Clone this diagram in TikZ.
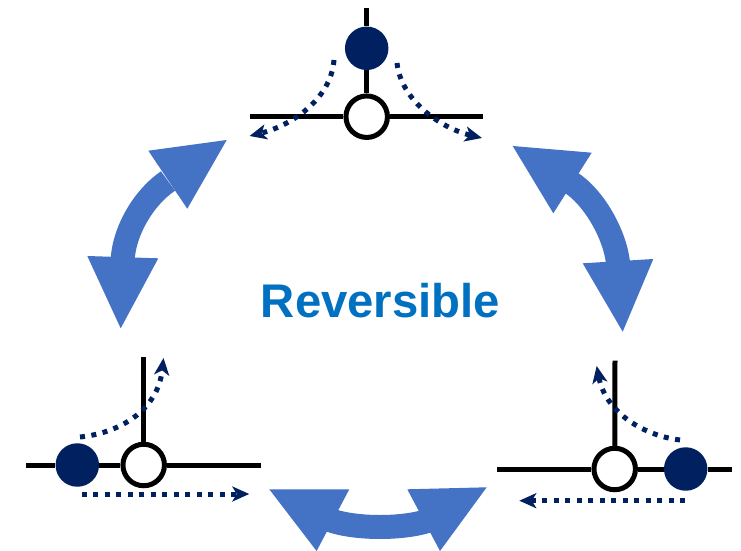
\documentclass[tikz,border=0pt]{standalone}
\usepackage{fontspec}
\setmainfont{Liberation Sans}
\usetikzlibrary{arrows.meta}
\definecolor{navy}{HTML}{002060}
\definecolor{cyclearrow}{HTML}{4472C4}
\definecolor{labelblue}{HTML}{0070C0}

\begin{document}
\begin{tikzpicture}[x=0.02cm, y=-0.02cm,
        rod/.style={line width=0.1cm, black},
        vacancy/.style={circle, draw=black, line width=0.1cm, fill=white, minimum size=0.83cm, inner sep=0pt},
        atom/.style={circle, fill=navy, minimum size=0.87cm, inner sep=0pt},
        hop/.style={navy, line width=0.1cm, dash pattern=on 0.1cm off 0.13cm,
            -{Stealth[length=0.34cm, width=0.3cm, inset=0.09cm]}},
        shaft/.style={cyclearrow, line width=0.48cm}]

        \useasboundingbox (0,0) rectangle (741,551);

        % top junction
        \coordinate (T1) at (250,116.7);
        \coordinate (T2) at (483.3,116.7);
        \coordinate (T3) at (366.7,8);
        \node[vacancy] (TV) at (366.7,116.7) {};
        \node[atom] (TA) at (366.7,48.3) {};
        \draw[rod] (T1) -- (TV) -- (T2);
        \draw[rod] (T3) -- (TA) -- (TV);
        \coordinate (Ta) at (334,60);
        \coordinate (Tb) at (249.5,136);
        \coordinate (Tc) at (397,63);
        \coordinate (Td) at (482,138);
        \draw[hop] (Ta) .. controls (331,100) and (290,126) .. (Tb);
        \draw[hop] (Tc) .. controls (401,100) and (440,128) .. (Td);

        % lower left junction
        \coordinate (L1) at (26,465);
        \coordinate (L2) at (260.7,465);
        \coordinate (L3) at (143.7,356.7);
        \node[vacancy] (LV) at (143.7,465) {};
        \node[atom] (LA) at (77.3,465) {};
        \draw[rod] (L1) -- (LA) -- (LV) -- (L2);
        \draw[rod] (L3) -- (LV);
        \coordinate (La) at (80,437);
        \coordinate (Lb) at (163.5,358);
        \coordinate (Lc) at (81.7,494);
        \coordinate (Ld) at (249.3,494);
        \draw[hop] (La) .. controls (120,433) and (158,410) .. (Lb);
        \draw[hop] (Lc) -- (Ld);

        % lower right junction
        \coordinate (R1) at (497.3,469);
        \coordinate (R2) at (731.7,469);
        \coordinate (R3) at (615,360.7);
        \node[vacancy] (RV) at (614.7,469) {};
        \node[atom] (RA) at (685.7,469) {};
        \draw[rod] (R1) -- (RV) -- (RA) -- (R2);
        \draw[rod] (R3) -- (RV);
        \coordinate (Ra) at (680,440);
        \coordinate (Rb) at (596.7,366);
        \coordinate (Rc) at (685,500.7);
        \coordinate (Rd) at (519.3,500.7);
        \draw[hop] (Ra) .. controls (640,435) and (605,410) .. (Rb);
        \draw[hop] (Rc) -- (Rd);

        % cycle arrows
        \fill[cyclearrow] (226.7,140) -- (148.3,150.7) -- (187.3,208.7) -- cycle;
        \fill[cyclearrow] (120.7,328.3) -- (87.3,256) -- (158.3,258.3) -- cycle;
        \draw[shaft] (122.5,262) .. controls (123.4,232) and (143.2,197.9) .. (168,181);

        \fill[cyclearrow] (512.7,146) -- (591.7,152.7) -- (553.3,213.3) -- cycle;
        \fill[cyclearrow] (622.7,331.7) -- (582.7,263.3) -- (653.3,259) -- cycle;
        \draw[shaft] (570,182) .. controls (593.8,196.7) and (616.3,236) .. (618.3,266);

        \fill[cyclearrow] (269.3,489.3) -- (349.3,489.3) -- (316.6,551) -- cycle;
        \fill[cyclearrow] (407.3,489.3) -- (486.7,487.3) -- (440,551) -- cycle;
        \draw[shaft] (325,518) .. controls (350,530) and (410,530) .. (435,518);

        \node[text=labelblue, font=\bfseries\fontsize{26.9pt}{32pt}\selectfont, anchor=base]
            (title) at (380.5,317.5) {Reversible};
    \end{tikzpicture}
\end{document}
